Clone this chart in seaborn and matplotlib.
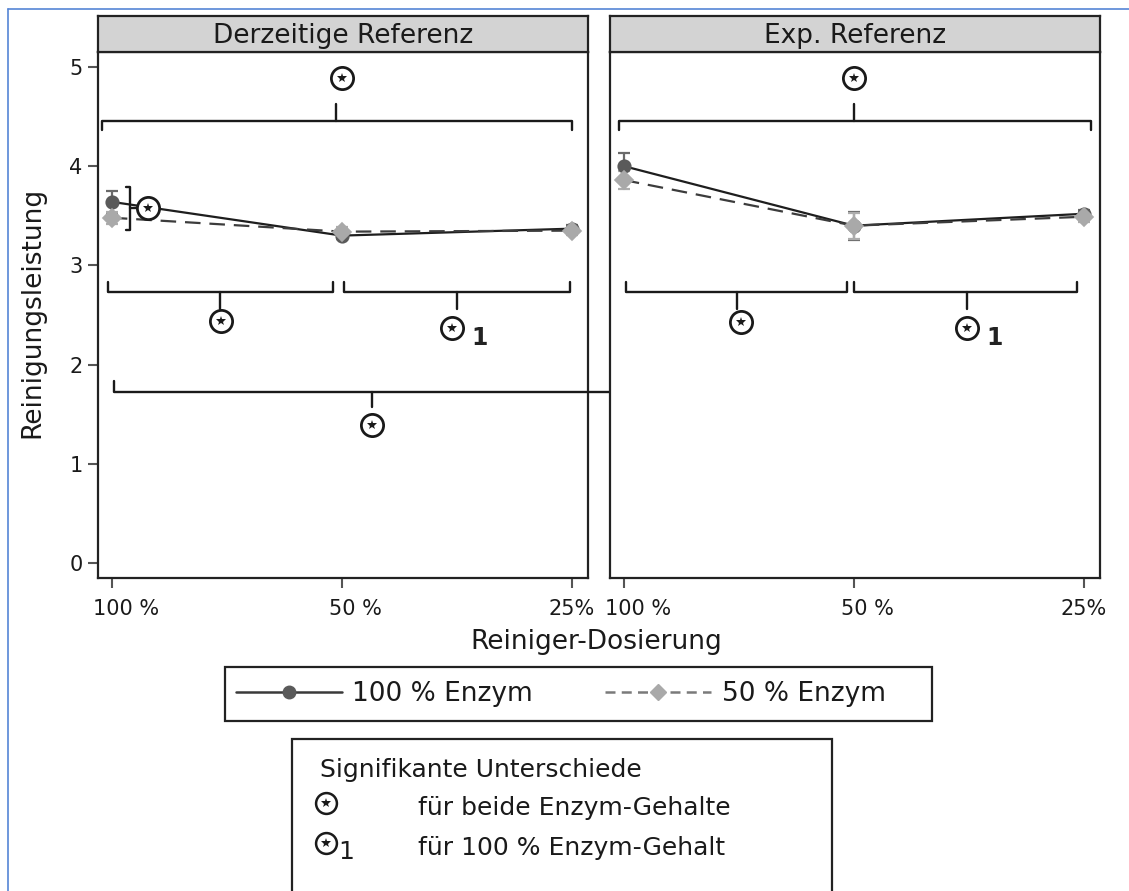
import pandas as pd
import matplotlib
matplotlib.use("Agg")
import matplotlib.pyplot as plt
from matplotlib.lines import Line2D
from matplotlib.patches import Rectangle
from matplotlib.transforms import ScaledTranslation
import seaborn as sns

# ================================
# Data
# ================================
panels = ["Derzeitige Referenz", "Exp. Referenz"]
doses = ["100 %", "50 %", "25%"]
enzymes = ["100 % Enzym", "50 % Enzym"]

derzeitig_100 = [3.64, 3.30, 3.37]
derzeitig_50 = [3.48, 3.34, 3.35]
exp_100 = [4.00, 3.40, 3.52]
exp_50 = [3.86, 3.40, 3.49]

derzeitig_100_err = [0.11, 0.03, 0.04]
derzeitig_50_err = [0.06, 0.05, 0.04]
exp_100_err = [0.13, 0.14, 0.04]
exp_50_err = [0.09, 0.13, 0.05]

rows = []
for panel, series in zip(panels, [[(derzeitig_100, derzeitig_100_err), (derzeitig_50, derzeitig_50_err)],
                                  [(exp_100, exp_100_err), (exp_50, exp_50_err)]]):
    for enz, (vals, errs) in zip(enzymes, series):
        for d, v, e in zip(doses, vals, errs):
            rows.append({"panel": panel, "enzym": enz, "dose": d, "value": v, "err": e})
df = pd.DataFrame(rows)

# ================================
# Styles
# ================================
sns.set_style("ticks")
plt.rcParams["font.family"] = ["DejaVu Sans"]
TXT = "#1a1a1a"
line_colors = ["#1e1e1e", "#3c3c3c"]
marker_colors = ["#5a5a5a", "#a9a9a9"]
err_colors = ["#6a6a6a", "#adadad"]

W, H = 1129, 891
fig = plt.figure(figsize=(W / 100, H / 100), dpi=100)


def px(x0, y0, x1, y1):
    return [x0 / W, 1 - y1 / H, (x1 - x0) / W, (y1 - y0) / H]


axes = [fig.add_axes(px(98, 52, 588, 578)), fig.add_axes(px(610, 52, 1100, 578))]
headers = [fig.add_axes(px(98, 16, 588, 52)), fig.add_axes(px(610, 16, 1100, 52))]

# ================================
# Panels
# ================================
for i, (ax, panel) in enumerate(zip(axes, panels)):
    sub = df[df["panel"] == panel]
    sns.pointplot(data=sub, x="dose", y="value", hue="enzym", order=doses, hue_order=enzymes,
                  palette=line_colors, markers=["o", "D"], linestyles=["-", "--"],
                  errorbar=None, legend=False, ax=ax, markersize=9, linewidth=1.6)
    data_lines = list(ax.lines)
    for line, mc in zip(data_lines, marker_colors):
        line.set_markerfacecolor(mc)
        line.set_markeredgecolor(mc)
        line.set_zorder(3)
    data_lines[1].set_dashes((7, 4))

    for k, enz in enumerate(enzymes):
        s = sub[sub["enzym"] == enz].set_index("dose").loc[doses]
        ax.errorbar(range(len(doses)), s["value"], yerr=s["err"], fmt="none",
                    ecolor=err_colors[k], elinewidth=1.6, capsize=4, capthick=1.6, zorder=2)

    ax.set_xlim(-0.06, 2.07)
    ax.set_ylim(-0.15, 5.15)
    ax.set_yticks(range(6))
    ax.set_xlabel("")
    ax.set_ylabel("")
    for sp in ax.spines.values():
        sp.set_visible(True)
        sp.set_linewidth(1.6)
        sp.set_color("#222222")
    ax.tick_params(axis="both", direction="out", length=7, width=1.5, color="#555555",
                   labelsize=15, labelcolor=TXT, pad=4)
    ax.tick_params(axis="x", pad=8)
    # the numbers sit on the ticks, the "%" hangs to the right
    for lab in ax.get_xticklabels():
        if " " in lab.get_text():
            lab.set_transform(lab.get_transform() + ScaledTranslation(14 / 100, 0, fig.dpi_scale_trans))
    if i == 1:
        ax.tick_params(axis="y", left=False, labelleft=False)

    hax = headers[i]
    hax.set_facecolor("#d3d3d3")
    hax.set_xticks([])
    hax.set_yticks([])
    for sp in hax.spines.values():
        sp.set_linewidth(1.6)
        sp.set_color("#222222")
    hax.text(0.5, 0.45, panel, ha="center", va="center", fontsize=19, color=TXT,
             transform=hax.transAxes)


# ================================
# Significance brackets
# ================================
def bracket(ax, x0, x1, xm, y, end_dy, mid_dy):
    kw = dict(color="#1a1a1a", lw=1.7, clip_on=False, zorder=5, solid_joinstyle="round",
              solid_capstyle="round")
    ax.plot([x0, x0, x1, x1], [y + end_dy, y, y, y + end_dy], **kw)
    ax.plot([xm, xm], [y, y + mid_dy], **kw)


def star(ax, x, y, sub=False):
    ax.plot([x], [y], marker="o", ms=16, mfc="white", mec="#1a1a1a", mew=2,
            clip_on=False, zorder=6)
    ax.plot([x], [y], marker="*", ms=7.5, color="#1a1a1a", mew=0,
            clip_on=False, zorder=7)
    if sub:
        ax.annotate("1", (x, y), xytext=(14, -7), textcoords="offset points",
                    fontsize=17, fontweight="bold", color="#222222", ha="left", va="center")


# panel, x_left, x_right, x_mid, y, end_dy, mid_dy, star_x, star_y, subscript
brackets = [
    (0, -0.044, 2.00, 0.976, 4.45, -0.09, 0.18, 1.00, 4.89, False),
    (1, -0.02, 2.03, 1.00, 4.45, -0.09, 0.18, 1.00, 4.89, False),
    (0, -0.017, 0.96, 0.47, 2.73, 0.10, -0.17, 0.475, 2.44, False),
    (0, 1.01, 1.99, 1.50, 2.73, 0.10, -0.17, 1.48, 2.37, True),
    (1, 0.01, 0.97, 0.49, 2.73, 0.10, -0.17, 0.51, 2.43, False),
    (1, 1.00, 1.97, 1.49, 2.73, 0.10, -0.17, 1.49, 2.37, True),
    (0, 0.01, 2.26, 1.13, 1.72, 0.11, -0.15, 1.13, 1.39, False),
]
for p, x0, x1, xm, y, edy, mdy, sx, sy, sub in brackets:
    bracket(axes[p], x0, x1, xm, y, edy, mdy)
    star(axes[p], sx, sy, sub)

# small bracket between the two points at 100 % (left panel)
ax = axes[0]
kw = dict(color="#1a1a1a", lw=1.7, clip_on=False, zorder=5)
ax.plot([0.06, 0.078, 0.078, 0.06], [3.79, 3.79, 3.36, 3.36], **kw)
ax.plot([0.078, 0.12], [3.58, 3.58], **kw)
star(ax, 0.157, 3.58)

# ================================
# Axis labels
# ================================
fig.text(32 / W, 1 - 312 / H, "Reinigungsleistung", rotation=90, ha="center", va="center",
         fontsize=19, color=TXT)
fig.text(596 / W, 1 - 642 / H, "Reiniger-Dosierung", ha="center", va="center",
         fontsize=19, color=TXT)

# ================================
# Legends
# ================================
handles = [
    Line2D([], [], color="#3a3a3a", lw=1.8, marker="o", ms=9, mfc=marker_colors[0], mec=marker_colors[0]),
    Line2D([], [], color="#7a7a7a", lw=1.8, ls=(0, (4, 2.5)), marker="D", ms=8.5,
           mfc=marker_colors[1], mec=marker_colors[1]),
]
leg = fig.legend(handles, enzymes, loc="center left", bbox_to_anchor=(236 / W, 1 - 694 / H), ncol=2,
                 frameon=False, fontsize=19, borderpad=0, borderaxespad=0,
                 handlelength=4.0, handletextpad=0.4, columnspacing=2.75)
for t in leg.get_texts():
    t.set_color(TXT)
fig.add_artist(Rectangle((225 / W, 1 - 721 / H), (932 - 225) / W, (721 - 667) / H,
                         transform=fig.transFigure, fill=False, ec="#222222", lw=1.6))

fig.add_artist(Rectangle((292 / W, 1 - 900 / H), (832 - 292) / W, (900 - 739) / H,
                         transform=fig.transFigure, fill=False, ec="#222222", lw=1.6))
fig.text(320 / W, 1 - 770 / H, "Signifikante Unterschiede", ha="left", va="center",
         fontsize=18, color=TXT)
fig.text(418 / W, 1 - 808 / H, "für beide Enzym-Gehalte", ha="left", va="center",
         fontsize=18, color=TXT)
fig.text(418 / W, 1 - 848 / H, "für 100 % Enzym-Gehalt", ha="left", va="center",
         fontsize=18, color=TXT)
for sy, sub in [(803, False), (843, True)]:
    fig.add_artist(Line2D([326 / W], [1 - sy / H], marker="o", ms=15, mfc="white", mec="#1a1a1a",
                          mew=1.8, transform=fig.transFigure))
    fig.add_artist(Line2D([326 / W], [1 - sy / H], marker="*", ms=7, color="#1a1a1a", mew=0,
                          transform=fig.transFigure))
    if sub:
        fig.text(338 / W, 1 - (sy + 9) / H, "1", ha="left", va="center", fontsize=18, color=TXT)

# blue frame of the screenshot
fig.add_artist(Line2D([8 / W, 8 / W], [0, 1 - 9 / H], color="#5585d5", lw=1.2, transform=fig.transFigure))
fig.add_artist(Line2D([8 / W, 1], [1 - 9 / H, 1 - 9 / H], color="#5585d5", lw=1.2, transform=fig.transFigure))

fig.savefig("out.png", dpi=100, facecolor="white")
